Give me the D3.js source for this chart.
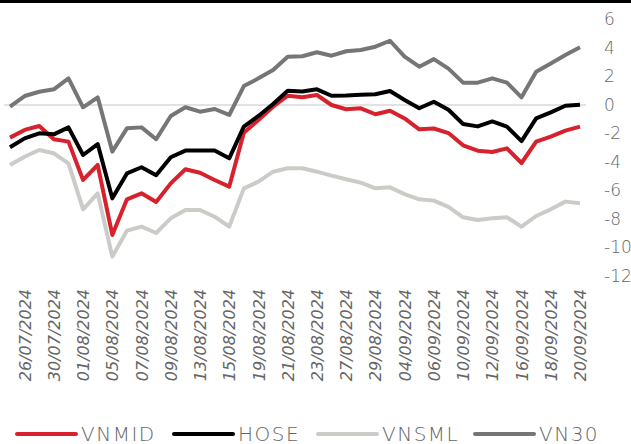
<!DOCTYPE html>
<html>
<head>
<meta charset="utf-8">
<script src="https://cdn.jsdelivr.net/npm/d3@7"></script>
<style>
  body { margin: 0; background: #fff; }
  svg { display: block; }
  text { font-family: "DejaVu Sans", sans-serif; font-weight: 200; fill: #666; }
</style>
</head>
<body>
<div id="chart"></div>
<script>
var svgWidth = 631;
var svgHeight = 444;

// trading days (labels shown on every other one)
var dates = ["25/07/2024", "26/07/2024", "29/07/2024", "30/07/2024", "31/07/2024",
  "01/08/2024", "02/08/2024", "05/08/2024", "06/08/2024", "07/08/2024",
  "08/08/2024", "09/08/2024", "12/08/2024", "13/08/2024", "14/08/2024",
  "15/08/2024", "16/08/2024", "19/08/2024", "20/08/2024", "21/08/2024",
  "22/08/2024", "23/08/2024", "26/08/2024", "27/08/2024", "28/08/2024",
  "29/08/2024", "30/08/2024", "04/09/2024", "05/09/2024", "06/09/2024",
  "09/09/2024", "10/09/2024", "11/09/2024", "12/09/2024", "13/09/2024",
  "16/09/2024", "17/09/2024", "18/09/2024", "19/09/2024", "20/09/2024"];

var vnmid = [-2.29, -1.75, -1.47, -2.41, -2.57, -5.26, -4.21, -9.12, -6.62, -6.2,
  -6.8, -5.5, -4.51, -4.75, -5.26, -5.73, -1.94, -1.05, -0.12, 0.65,
  0.54, 0.7, 0.0, -0.3, -0.23, -0.65, -0.4, -0.94, -1.71, -1.65,
  -1.97, -2.83, -3.21, -3.3, -3.04, -4.07, -2.57, -2.22, -1.8, -1.52];

var hose = [-2.97, -2.34, -1.99, -2.06, -1.57, -3.51, -2.74, -6.55, -4.8, -4.37,
  -4.93, -3.67, -3.2, -3.2, -3.2, -3.74, -1.52, -0.77, 0.07, 1.0,
  0.95, 1.1, 0.65, 0.67, 0.72, 0.75, 0.98, 0.35, -0.23, 0.23,
  -0.33, -1.33, -1.5, -1.15, -1.52, -2.54, -0.94, -0.52, -0.05, 0.02];

var vnsml = [-4.21, -3.63, -3.16, -3.39, -4.1, -7.32, -6.2, -10.64, -8.82, -8.54,
  -8.98, -7.95, -7.37, -7.37, -7.84, -8.54, -5.85, -5.38, -4.68, -4.44,
  -4.44, -4.68, -4.96, -5.21, -5.45, -5.85, -5.78, -6.25, -6.62, -6.71,
  -7.15, -7.88, -8.07, -7.95, -7.88, -8.54, -7.79, -7.32, -6.78, -6.9];

var vn30 = [-0.12, 0.63, 0.93, 1.1, 1.87, -0.16, 0.54, -3.27, -1.64, -1.57,
  -2.4, -0.77, -0.16, -0.47, -0.28, -0.7, 1.33, 1.87, 2.46, 3.39,
  3.42, 3.7, 3.46, 3.77, 3.86, 4.09, 4.51, 3.39, 2.69, 3.22,
  2.55, 1.57, 1.57, 1.87, 1.57, 0.54, 2.34, 2.92, 3.51, 4.05];

var yTicks = [-12, -10, -8, -6, -4, -2, 0, 2, 4, 6];

var series = [
  { name: "VNMID", values: vnmid, color: "#d7222d" },
  { name: "HOSE", values: hose, color: "#000000" },
  { name: "VNSML", values: vnsml, color: "#cbcbc7" },
  { name: "VN30", values: vn30, color: "#767676" }
];

var svg = d3.select("#chart")
  .append("svg")
  .attr("width", svgWidth)
  .attr("height", svgHeight);

// black strip along the top edge
svg.append("rect")
  .attr("x", 0).attr("y", 0)
  .attr("width", svgWidth).attr("height", 3)
  .attr("fill", "#000");

var xScale = d3.scalePoint()
  .domain(dates)
  .range([10, 580]);

var yScale = d3.scaleLinear()
  .domain([-12, 6])
  .range([276, 19.5]);

// zero line
svg.append("line")
  .attr("x1", 4).attr("x2", 586)
  .attr("y1", yScale(0)).attr("y2", yScale(0))
  .attr("stroke", "#d9d9d9")
  .attr("stroke-width", 1.5);

// right axis, labels only
var rightAxis = d3.axisRight(yScale)
  .tickValues(yTicks)
  .tickSize(0)
  .tickPadding(0)
  .tickFormat(d => String(d));

var yAxisG = svg.append("g")
  .attr("transform", "translate(604, 0)")
  .call(rightAxis);
yAxisG.select(".domain").remove();
yAxisG.selectAll("text")
  .style("font-family", "\"DejaVu Sans\", sans-serif")
  .style("font-size", "17px")
  .attr("fill", "#666");

// bottom axis, rotated date labels
var bottomAxis = d3.axisBottom(xScale)
  .tickValues(dates.filter((d, i) => i % 2 === 1))
  .tickSize(0);

var xAxisG = svg.append("g")
  .attr("transform", "translate(0, 283)")
  .call(bottomAxis);
xAxisG.select(".domain").remove();
xAxisG.selectAll("text")
  .attr("transform", "rotate(-90)")
  .attr("x", -6)
  .attr("y", 0)
  .attr("dy", "0.35em")
  .attr("text-anchor", "end")
  .style("font-family", "\"DejaVu Sans\", sans-serif")
  .style("font-size", "16px")
  .style("font-style", "italic")
  .attr("fill", "#666");

var line = d3.line()
  .x((d, i) => xScale(dates[i]))
  .y(d => yScale(d));

svg.selectAll(".series")
  .data(series)
  .enter()
  .append("path")
  .attr("class", "series")
  .attr("d", d => line(d.values))
  .attr("fill", "none")
  .attr("stroke", d => d.color)
  .attr("stroke-width", 4)
  .attr("stroke-linejoin", "round");

// legend
var legendX = [17, 174, 318, 475];
var legend = svg.selectAll(".legend")
  .data(series)
  .enter()
  .append("g")
  .attr("class", "legend")
  .attr("transform", (d, i) => `translate(${legendX[i]}, 434)`);

legend.append("line")
  .attr("x1", 0).attr("x2", 59)
  .attr("y1", 0).attr("y2", 0)
  .attr("stroke", d => d.color)
  .attr("stroke-width", 4)
  .attr("stroke-linecap", "round");

legend.append("text")
  .attr("x", 64)
  .attr("y", 6.5)
  .style("font-size", "20px")
  .style("letter-spacing", "1.5px")
  .text(d => d.name);
</script>
</body>
</html>
